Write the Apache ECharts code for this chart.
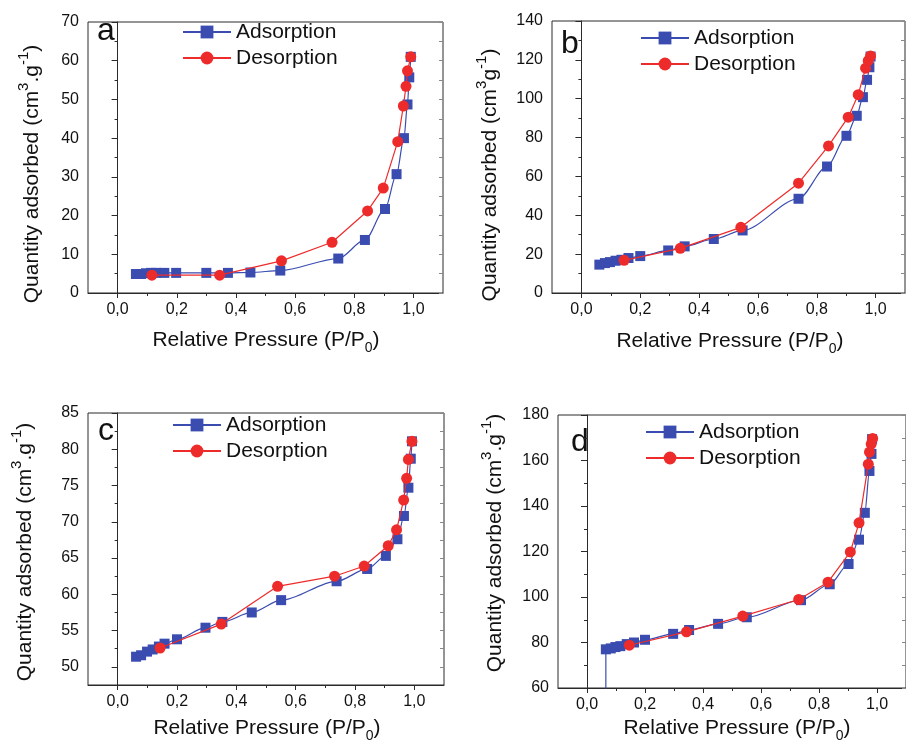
<!DOCTYPE html>
<html><head><meta charset="utf-8">
<script src="https://cdn.jsdelivr.net/npm/echarts@6/dist/echarts.min.js"></script>
<style>html,body{margin:0;padding:0;background:#fff}#c{width:906px;height:742px}</style>
</head><body><div id="c"></div>
<script>
const seriesNames = ['Adsorption', 'Desorption'];
const panelLetters = ['a', 'b', 'c', 'd'];
const xTicks = [0, 0.2, 0.4, 0.6, 0.8, 1.0];
const xMinorTicks = [0.1, 0.3, 0.5, 0.7, 0.9];

const aYTicks = [0, 10, 20, 30, 40, 50, 60, 70];
const aYMinor = [5, 15, 25, 35, 45, 55, 65];
const bYTicks = [0, 20, 40, 60, 80, 100, 120, 140];
const bYMinor = [10, 30, 50, 70, 90, 110, 130];
const cYTicks = [50, 55, 60, 65, 70, 75, 80, 85];
const cYMinor = [52.5, 57.5, 62.5, 67.5, 72.5, 77.5, 82.5];
const dYTicks = [60, 80, 100, 120, 140, 160, 180];
const dYMinor = [70, 90, 110, 130, 150, 170];

const aAdsorption = [[0.062,4.9],[0.079,4.9],[0.096,5.1],[0.113,5.2],[0.13,5.2],[0.158,5.2],[0.198,5.2],[0.30,5.2],[0.373,5.2],[0.449,5.3],[0.55,5.8],[0.746,8.9],[0.836,13.7],[0.904,21.7],[0.943,30.7],[0.968,40.0],[0.98,48.7],[0.986,55.7],[0.991,61.0]];
const aDesorption = [[0.991,61.0],[0.98,57.4],[0.975,53.4],[0.966,48.3],[0.947,39.1],[0.898,27.1],[0.845,21.2],[0.725,13.1],[0.554,8.3],[0.345,4.6],[0.116,4.6]];

const bAdsorption = [[0.061,14.6],[0.080,15.4],[0.097,15.9],[0.116,16.6],[0.136,17.1],[0.16,18.0],[0.20,19.0],[0.295,21.9],[0.351,24.0],[0.45,27.8],[0.548,32.2],[0.738,48.5],[0.835,65.1],[0.901,80.9],[0.936,91.2],[0.957,100.8],[0.971,109.7],[0.979,116.2],[0.983,121.7]];
const bDesorption = [[0.983,122.0],[0.975,119.6],[0.966,115.7],[0.941,102.1],[0.907,90.5],[0.840,75.7],[0.738,56.5],[0.542,33.8],[0.336,23.0],[0.145,16.8]];

const cAdsorption = [[0.062,51.4],[0.079,51.6],[0.099,52.1],[0.118,52.4],[0.139,52.8],[0.158,53.2],[0.20,53.8],[0.296,55.4],[0.353,56.2],[0.452,57.5],[0.551,59.2],[0.738,61.8],[0.841,63.5],[0.904,65.3],[0.943,67.6],[0.965,70.8],[0.980,74.7],[0.988,78.7],[0.992,81.1]];
const cDesorption = [[0.992,81.1],[0.980,78.6],[0.974,76.0],[0.964,73.0],[0.940,68.9],[0.912,66.7],[0.831,63.9],[0.731,62.5],[0.539,61.1],[0.349,55.9],[0.143,52.6]];

const dAdsorption = [[0.065,0],[0.065,77.0],[0.082,77.4],[0.098,78.0],[0.115,78.4],[0.137,79.3],[0.162,80.0],[0.20,81.2],[0.297,83.8],[0.352,85.5],[0.452,88.2],[0.551,91.1],[0.738,98.6],[0.837,105.6],[0.902,114.5],[0.938,125.2],[0.958,137.0],[0.974,155.4],[0.981,162.9],[0.983,169.4]];
const dDesorption = [[0.985,169.7],[0.980,167.2],[0.974,163.7],[0.970,158.4],[0.938,132.6],[0.908,119.8],[0.831,106.5],[0.730,98.9],[0.537,91.6],[0.343,84.7],[0.146,78.8]];

const BLUE = '#3a4cb0', RED = '#ee2b2b', AXIS = '#2a2a2a', TXT = '#111';
const FONT = '"Liberation Sans", Arial, sans-serif';

const panels = [
  {grid:{left:88, top:22, width:355, height:271}, yMin:0, yMax:70, yTicks:aYTicks, yMinor:aYMinor, ads:aAdsorption, des:aDesorption, legend:[182,21], letter:[97,31], yTitle:[32,174], xTitle:[266,340], dot:'.'},
  {grid:{left:552, top:21, width:353, height:272}, yMin:0, yMax:140, yTicks:bYTicks, yMinor:bYMinor, ads:bAdsorption, des:bDesorption, legend:[640,27], letter:[561,44], yTitle:[490,175], xTitle:[730,341], dot:''},
  {grid:{left:88, top:413, width:356, height:272}, yMin:47.5, yMax:85, yTicks:cYTicks, yMinor:cYMinor, ads:cAdsorption, des:cDesorption, legend:[172,414], letter:[98,431], yTitle:[25,552], xTitle:[267,728], dot:'.'},
  {grid:{left:558, top:415, width:356, height:273}, yMin:60, yMax:180, yTicks:dYTicks, yMinor:dYMinor, ads:dAdsorption, des:dDesorption, legend:[645,421], letter:[571,442], yTitle:[495,543], xTitle:[737,728], dot:'.'}
];

const fmtX = v => v.toFixed(1).replace('.', ',');
const grids = [], xAxes = [], yAxes = [], series = [], legends = [], graphics = [];

panels.forEach((p, i) => {
  grids.push(Object.assign({show:true, borderColor:AXIS, borderWidth:1, backgroundColor:'transparent'}, p.grid));
  const xBase = {type:'value', gridIndex:i, min:-0.1, max:1.1, splitLine:{show:false}, position:'bottom'};
  xAxes.push(Object.assign({}, xBase, {
    axisLine:{show:true, lineStyle:{color:AXIS, width:1}},
    axisTick:{show:true, length:5, inside:false, customValues:xTicks, lineStyle:{color:AXIS}},
    axisLabel:{show:true, customValues:xTicks, formatter:fmtX, margin:9, fontSize:16, color:TXT, fontFamily:FONT}
  }));
  xAxes.push(Object.assign({}, xBase, {
    axisLine:{show:false},
    axisTick:{show:true, length:3, inside:false, customValues:xMinorTicks, lineStyle:{color:AXIS}},
    axisLabel:{show:false}
  }));
  const yBase = {type:'value', gridIndex:i, min:p.yMin, max:p.yMax, splitLine:{show:false}};
  yAxes.push(Object.assign({}, yBase, {position:'left',
    axisLine:{show:true, lineStyle:{color:AXIS, width:1}},
    axisTick:{show:true, length:6, inside:false, customValues:p.yTicks, lineStyle:{color:AXIS}},
    axisLabel:{show:true, customValues:p.yTicks, margin:9, fontSize:16, color:TXT, fontFamily:FONT}
  }));
  yAxes.push(Object.assign({}, yBase, {position:'left',
    axisLine:{show:false},
    axisTick:{show:true, length:3, inside:false, customValues:p.yMinor, lineStyle:{color:AXIS}},
    axisLabel:{show:false}
  }));
  yAxes.push(Object.assign({}, yBase, {position:'right',
    axisLine:{show:false},
    axisTick:{show:true, length:4, inside:true, customValues:p.yTicks.concat(p.yMinor), lineStyle:{color:'#888'}},
    axisLabel:{show:false}
  }));
  series.push({name:seriesNames[0], type:'line', xAxisIndex:2*i, yAxisIndex:3*i, data:p.ads,
    symbol:'rect', symbolSize:10, smooth:0.3, smoothMonotone:'x', clip:true,
    lineStyle:{color:BLUE, width:1.2}, itemStyle:{color:BLUE}, z:2});
  series.push({name:seriesNames[1], type:'line', xAxisIndex:2*i, yAxisIndex:3*i, data:p.des,
    symbol:'circle', symbolSize:11, smooth:false, clip:true,
    lineStyle:{color:RED, width:1.2}, itemStyle:{color:RED}, z:3});
  legends.push({data:seriesNames, orient:'vertical', left:p.legend[0], top:p.legend[1], padding:0,
    itemWidth:48, itemHeight:16, itemGap:4, selectedMode:false,
    textStyle:{fontSize:21, lineHeight:22, color:TXT, fontFamily:FONT}});
  graphics.push({type:'text', x:p.letter[0], y:p.letter[1], style:{text:panelLetters[i], fontSize:32, fontFamily:FONT, fill:TXT, align:'left', verticalAlign:'middle'}});
  graphics.push({type:'text', x:p.yTitle[0], y:p.yTitle[1], rotation:Math.PI/2,
    style:{text:'{n|Quantity adsorbed (cm}{s|3}{n|' + p.dot + 'g}{s|-1}{n|)}', align:'center', verticalAlign:'middle', fill:TXT,
      rich:{n:{fontSize:21, fontFamily:FONT, fill:TXT, lineHeight:32}, s:{fontSize:15, fontFamily:FONT, fill:TXT, verticalAlign:'top', lineHeight:15}}}});
  graphics.push({type:'text', x:p.xTitle[0], y:p.xTitle[1],
    style:{text:'{n|Relative Pressure (P/P}{b|0}{n|)}', align:'center', verticalAlign:'middle', fill:TXT,
      rich:{n:{fontSize:21, fontFamily:FONT, fill:TXT, lineHeight:30}, b:{fontSize:14, fontFamily:FONT, fill:TXT, verticalAlign:'bottom', lineHeight:14}}}});
});

const chart = echarts.init(document.getElementById('c'), null, {renderer:'canvas'});
chart.setOption({
  animation:false, backgroundColor:'#fff',
  grid:grids, xAxis:xAxes, yAxis:yAxes, series:series, legend:legends, graphic:graphics
});
</script></body></html>
